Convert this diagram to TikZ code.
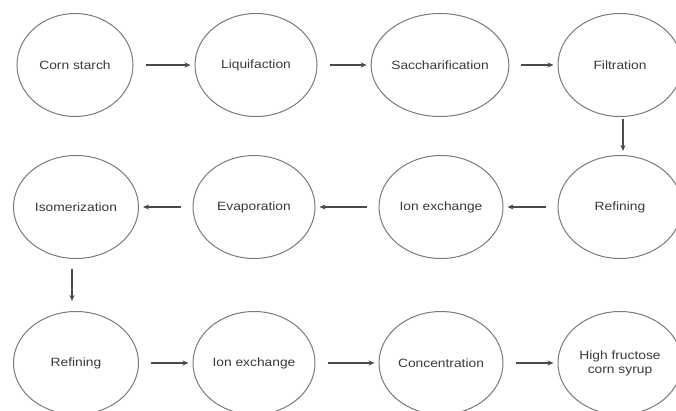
\documentclass[tikz,border=0pt]{standalone}
\usepackage{fontspec}
\setmainfont{Liberation Sans}[FakeStretch=1.15]
\usetikzlibrary{shapes.geometric,arrows.meta}
\definecolor{edgegray}{HTML}{7A7A7A}
\definecolor{arrowgray}{HTML}{4A4A4A}
\definecolor{textgray}{HTML}{3A3A3A}
\begin{document}
\begin{tikzpicture}[x=1pt,y=-1pt,
  stage/.style={ellipse,draw=edgegray,line width=1pt,inner sep=0pt,
    minimum height=103pt,text=textgray,font=\fontsize{12}{14}\selectfont,align=center},
  flow/.style={draw=arrowgray,line width=1.1pt,-{Stealth[length=6pt,width=5pt]},
    shorten <=12pt,shorten >=4pt}]
\useasboundingbox (0,0) rectangle (676,410);
\fill[white] (0,0) rectangle (676,410);
% row 1
\node[stage,minimum width=116pt] (corn) at (75,65) {Corn starch};
\node[stage,minimum width=122pt] (liq) at (256,65) {Liquifaction};
\node[stage,minimum width=127pt] (sacc) at (440,65) {Saccharification};
\node[stage,minimum width=124pt] (filt) at (620,65) {Filtration};
% row 2
\node[stage,minimum width=124pt] (ref1) at (620,207) {Refining};
\node[stage,minimum width=124pt] (ion1) at (441,207) {Ion exchange};
\node[stage,minimum width=122pt] (evap) at (254,207) {Evaporation};
\node[stage,minimum width=125pt] (iso) at (76,207) {Isomerization};
% row 3
\node[stage,minimum width=125pt] (ref2) at (76,363) {Refining};
\node[stage,minimum width=122pt] (ion2) at (254,363) {Ion exchange};
\node[stage,minimum width=124pt] (conc) at (441,363) {Concentration};
\node[stage,minimum width=124pt] (hfcs) at (620,363) {High fructose\\corn syrup};
% connectors
\draw[flow] (corn) -- (liq);
\draw[flow] (liq) -- (sacc);
\draw[flow] (sacc) -- (filt);
\draw[flow,shorten <=2pt] ([xshift=3pt]filt.south) -- ([xshift=3pt]ref1.north);
\draw[flow] (ref1) -- (ion1);
\draw[flow] (ion1) -- (evap);
\draw[flow] (evap) -- (iso);
\draw[flow,shorten <=10pt,shorten >=10pt] ([xshift=-4pt]iso.south) -- ([xshift=-4pt]ref2.north);
\draw[flow] (ref2) -- (ion2);
\draw[flow] (ion2) -- (conc);
\draw[flow] (conc) -- (hfcs);
\end{tikzpicture}
\end{document}
